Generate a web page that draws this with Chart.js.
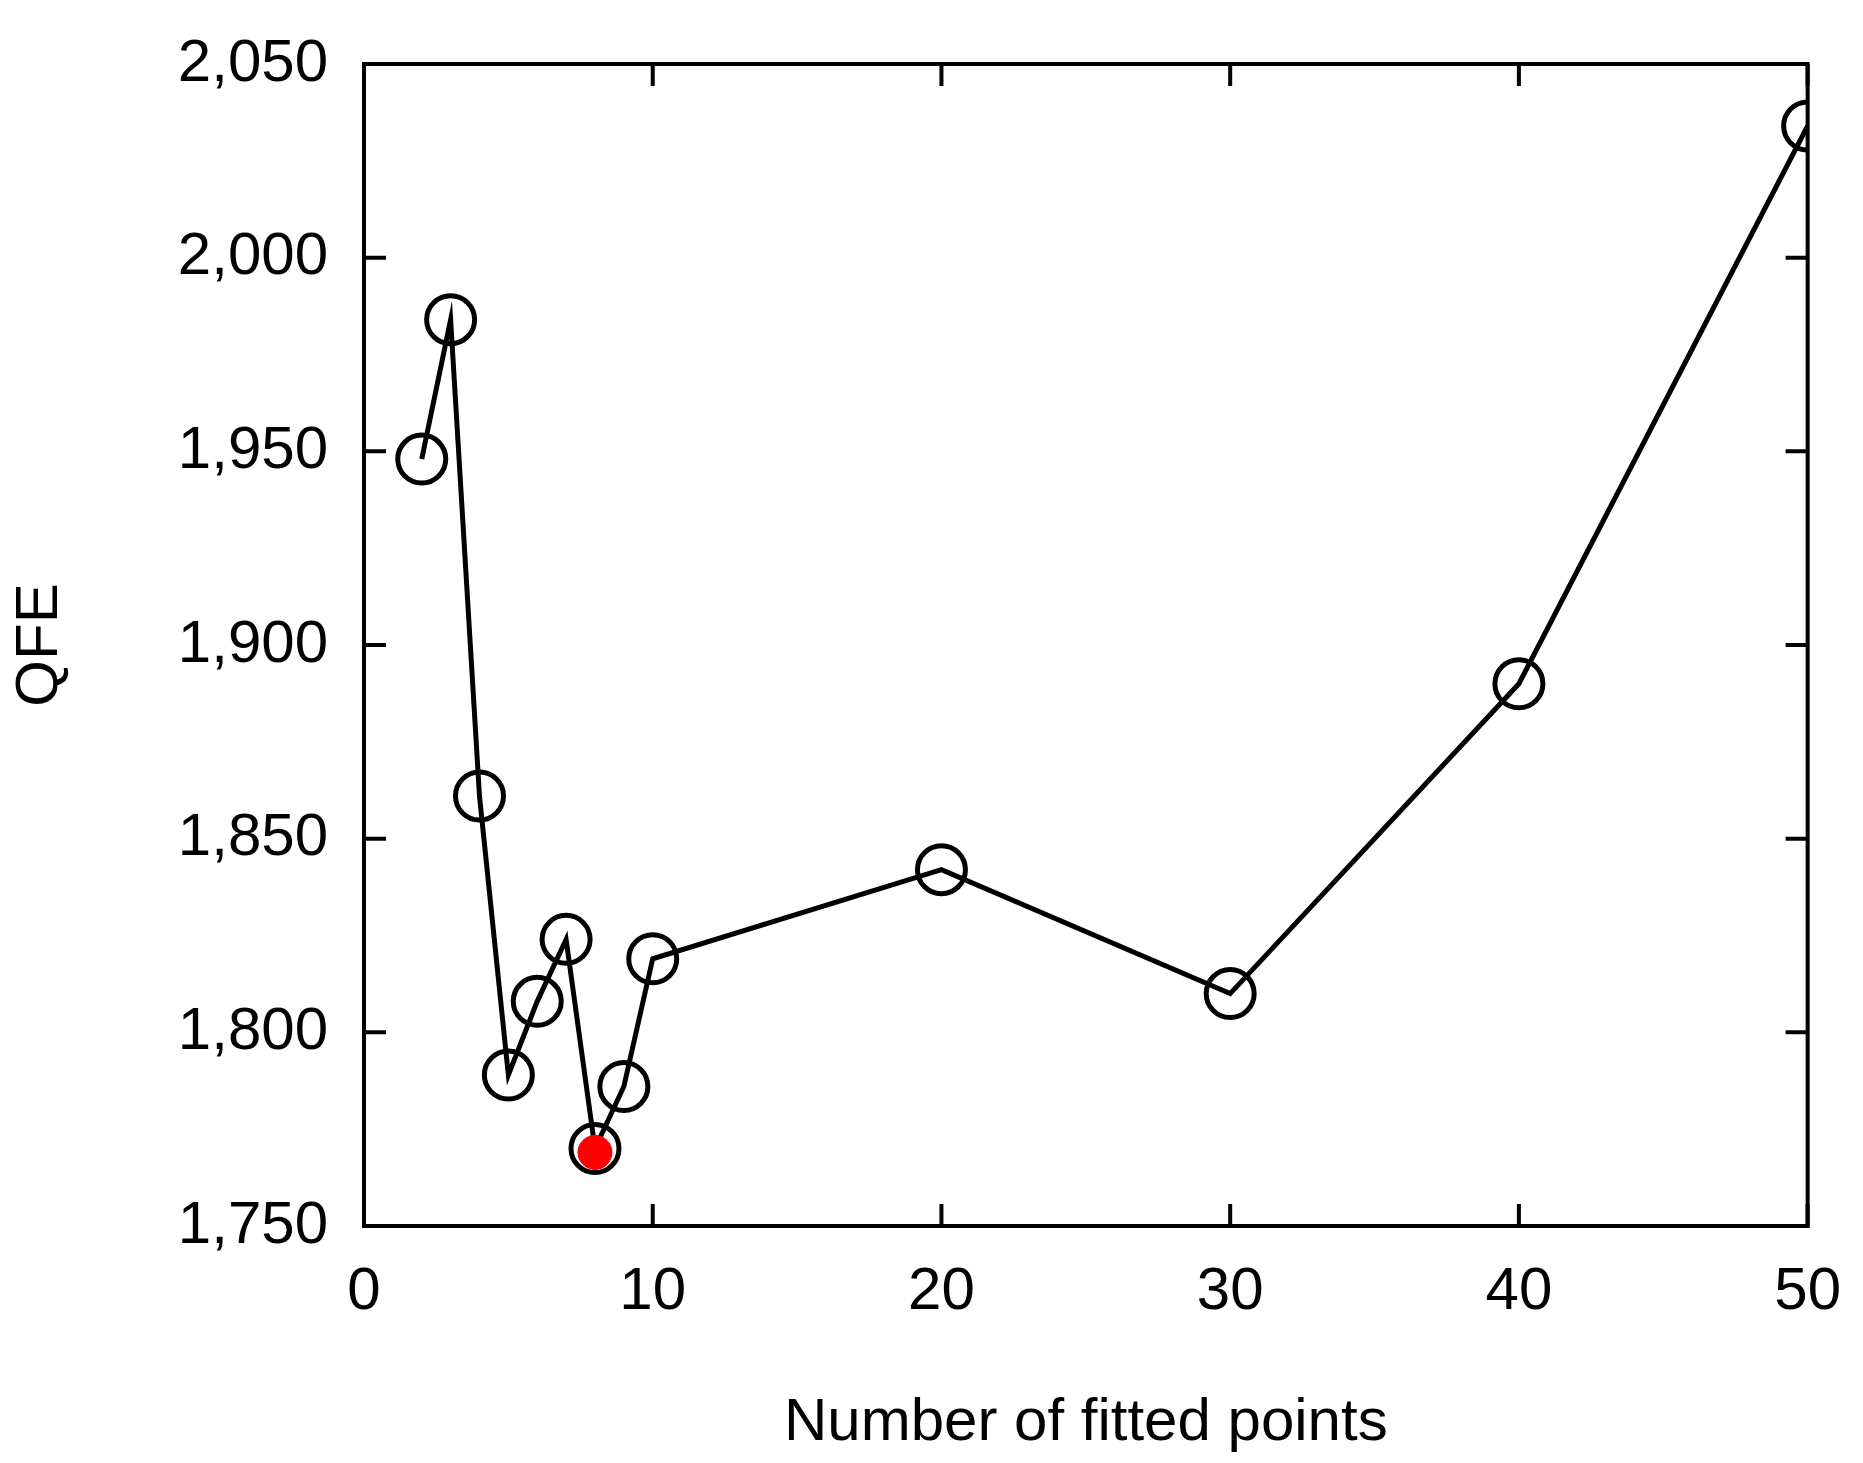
<!DOCTYPE html>
<html><head><meta charset="utf-8">
<script src="https://cdn.jsdelivr.net/npm/chart.js@4/dist/chart.umd.min.js"></script>
<style>html,body{margin:0;padding:0;background:#fff}#c{display:block}</style>
</head><body>
<canvas id="c" width="1863" height="1463"></canvas>
<script>
const xValues=[2,3,4,5,6,7,8,9,10,20,30,40,50];
const qfe=[1948,1984,1861,1789,1808,1824,1770,1786,1819,1842,1810,1890,2034];
const bestX=[8];
const bestQ=[1769];
const xTicks=[0,10,20,30,40,50];
const yTicks=[1750,1800,1850,1900,1950,2000,2050];

const inward={id:'inward',afterDatasetsDraw(ch){
  const c=ch.ctx,a=ch.chartArea,xs=ch.scales.x,ys=ch.scales.y,L=22;
  c.save();c.strokeStyle='#000';c.lineWidth=4;
  c.strokeRect(a.left,a.top,a.right-a.left,a.bottom-a.top);
  c.beginPath();
  xTicks.forEach(v=>{const p=xs.getPixelForValue(v);c.moveTo(p,a.bottom);c.lineTo(p,a.bottom-L);c.moveTo(p,a.top);c.lineTo(p,a.top+L);});
  yTicks.forEach(v=>{const p=ys.getPixelForValue(v);c.moveTo(a.left,p);c.lineTo(a.left+L,p);c.moveTo(a.right,p);c.lineTo(a.right-L,p);});
  c.stroke();c.restore();
}};
const font={family:'"Liberation Sans", Arial, sans-serif',size:60};
new Chart(document.getElementById('c'),{
  type:'scatter',
  data:{datasets:[
    {data:xValues.map((x,i)=>({x,y:qfe[i]})),showLine:true,borderColor:'#000',borderWidth:5,
     pointRadius:24,pointBorderWidth:5,pointBorderColor:'#000',pointBackgroundColor:'rgba(0,0,0,0)',order:2},
    {data:bestX.map((x,i)=>({x,y:bestQ[i]})),pointRadius:17,pointBackgroundColor:'#ff0000',pointBorderColor:'#ff0000',order:1}
  ]},
  plugins:[inward],
  options:{responsive:false,animation:false,
    layout:{padding:{top:55,right:51,left:0,bottom:0}},
    plugins:{legend:{display:false},tooltip:{enabled:false}},
    scales:{
      x:{type:'linear',min:0,max:50,afterBuildTicks(s){s.ticks=xTicks.map(v=>({value:v}));},
        afterFit(s){s.height=237;},
        grid:{display:false},border:{display:false},
        ticks:{font,color:'#000',padding:22,maxRotation:0},
        title:{display:true,text:'Number of fitted points',font,color:'#000',padding:{top:20}}},
      y:{type:'linear',min:1750,max:2050,afterBuildTicks(s){s.ticks=yTicks.map(v=>({value:v}));},
        afterFit(s){s.width=364;},
        grid:{display:false},border:{display:false},
        ticks:{font,color:'#000',padding:28},
        title:{display:true,text:'QFE',font,color:'#000',padding:{bottom:10}}}
    }}
});
</script>
</body></html>
